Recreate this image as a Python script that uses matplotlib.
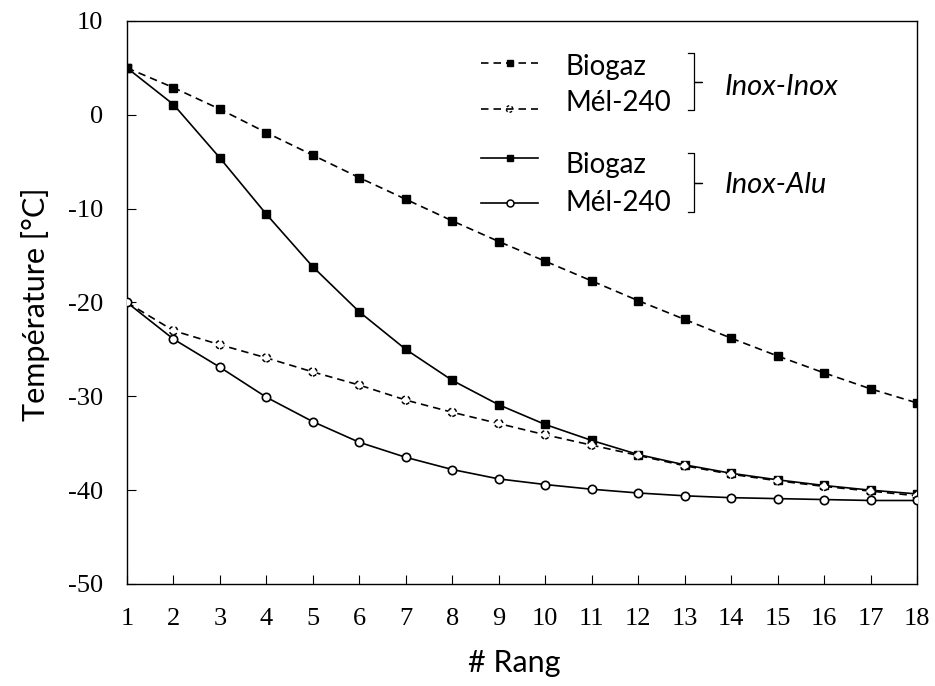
import numpy as np
import matplotlib
matplotlib.use('Agg')
import matplotlib.pyplot as plt
from matplotlib.lines import Line2D

plt.rcParams['axes.unicode_minus'] = False

# data
rang = list(range(1, 19))
biogaz_inox_inox = [5.0, 2.9, 0.6, -1.9, -4.3, -6.7, -9.0, -11.3, -13.5, -15.6,
                    -17.7, -19.8, -21.8, -23.8, -25.7, -27.5, -29.2, -30.7]
mel_inox_inox = [-20.0, -23.0, -24.5, -25.9, -27.4, -28.8, -30.4, -31.7, -32.9, -34.1,
                 -35.2, -36.3, -37.4, -38.3, -39.0, -39.6, -40.1, -40.6]
biogaz_inox_alu = [5.0, 1.1, -4.6, -10.6, -16.2, -21.0, -25.0, -28.3, -30.9, -33.0,
                   -34.7, -36.2, -37.3, -38.2, -38.9, -39.5, -40.0, -40.4]
mel_inox_alu = [-20.0, -23.9, -26.9, -30.1, -32.7, -34.9, -36.5, -37.8, -38.8, -39.4,
                -39.9, -40.3, -40.6, -40.8, -40.9, -41.0, -41.1, -41.1]

y_ticks = [10, 0, -10, -20, -30, -40, -50]

W, H = 935, 686
fig = plt.figure(figsize=(W / 100, H / 100), dpi=100)
ax = fig.add_axes([127 / W, 1 - 584 / H, (917 - 127) / W, (584 - 21) / H])

DASH = (0, (4.5, 3))
LW = 1.2
serif = 'Liberation Serif'
sans = 'Lato'

# curves
ax.plot(rang, biogaz_inox_inox, color='k', lw=LW, ls=DASH, marker='s', ms=6,
        mfc='k', mec='k', zorder=3)
ax.plot(rang, mel_inox_inox, color='k', lw=LW, ls=DASH, zorder=3)
ax.scatter(rang, mel_inox_inox, s=34, marker='o', facecolors='white',
           edgecolors='k', linewidths=1.1, linestyles=(0, (2.5, 2)), zorder=4)
ax.plot(rang, biogaz_inox_alu, color='k', lw=LW, ls='-', marker='s', ms=6,
        mfc='k', mec='k', zorder=3)
ax.plot(rang, mel_inox_alu, color='k', lw=LW, ls='-', marker='o', ms=6,
        mfc='white', mec='k', mew=1.2, zorder=5)

ax.set_xlim(1, 18)
ax.set_ylim(-50, 10)
ax.set_xticks(rang)
ax.set_yticks(y_ticks)
ax.tick_params(direction='in', length=6.5, width=0.8, top=False, right=False)
ax.tick_params(axis='y', pad=17)
ax.tick_params(axis='x', pad=17)
for lab in ax.get_xticklabels() + ax.get_yticklabels():
    lab.set_fontfamily(serif)
    lab.set_fontsize(19)
for s in ax.spines.values():
    s.set_linewidth(1.0)

fig.text(36 / W, 1 - 304 / H, 'Température [°C]', rotation=90, ha='center',
         va='center', fontsize=22, family=sans)
fig.text(514 / W, 1 - 663 / H, '# Rang', ha='center', va='center',
         fontsize=22, family=sans)


# custom legend, drawn in figure pixel coordinates
def px(x, y):
    return x / W, 1 - y / H


def legend_row(y, ls, marker):
    x0, x1 = px(481, y)[0], px(538, y)[0]
    yy = px(0, y)[1]
    fig.add_artist(Line2D([x0, x1], [yy, yy], color='k', lw=LW, ls=ls,
                          transform=fig.transFigure))
    xm = (x0 + x1) / 2
    if marker == 'sq':
        fig.add_artist(Line2D([xm], [yy], marker='s', ms=5, color='k',
                              transform=fig.transFigure))
    elif marker == 'open':
        fig.add_artist(Line2D([xm], [yy], marker='o', ms=5, mfc='white',
                              mec='k', mew=1.1, transform=fig.transFigure))
    else:
        ax.scatter([xm], [yy], s=22, marker='o', facecolors='white',
                   edgecolors='k', linewidths=1.0, linestyles=(0, (2, 1.8)),
                   transform=fig.transFigure, zorder=6, clip_on=False)


def brace(ytop, ybot, xs=688, xe=694, xn=702):
    ym = (ytop + ybot) / 2
    xsb = [xs, xe, xe, xn, xe, xe, xs]
    ysb = [ytop, ytop, ym, ym, ym, ybot, ybot]
    fig.add_artist(Line2D([x / W for x in xsb], [1 - y / H for y in ysb],
                          color='k', lw=0.9, transform=fig.transFigure))


# (line y, text baseline y, style, marker, label)
rows = [(63, 75, DASH, 'sq', 'Biogaz'), (109, 111, DASH, 'dash', 'Mél-240'),
        (158, 173, '-', 'sq', 'Biogaz'), (203, 211, '-', 'open', 'Mél-240')]
for y, yb, ls, mk, txt in rows:
    legend_row(y, ls, mk)
    fig.text(*px(566, yb), txt, ha='left', va='baseline', fontsize=20, family=sans)

brace(53, 110)
brace(153, 212)
fig.text(*px(725, 95), 'Inox-Inox', ha='left', va='baseline', fontsize=21,
         family=sans, style='italic')
fig.text(*px(725, 193), 'Inox-Alu', ha='left', va='baseline', fontsize=21,
         family=sans, style='italic')

plt.savefig('out.png', dpi=100)
